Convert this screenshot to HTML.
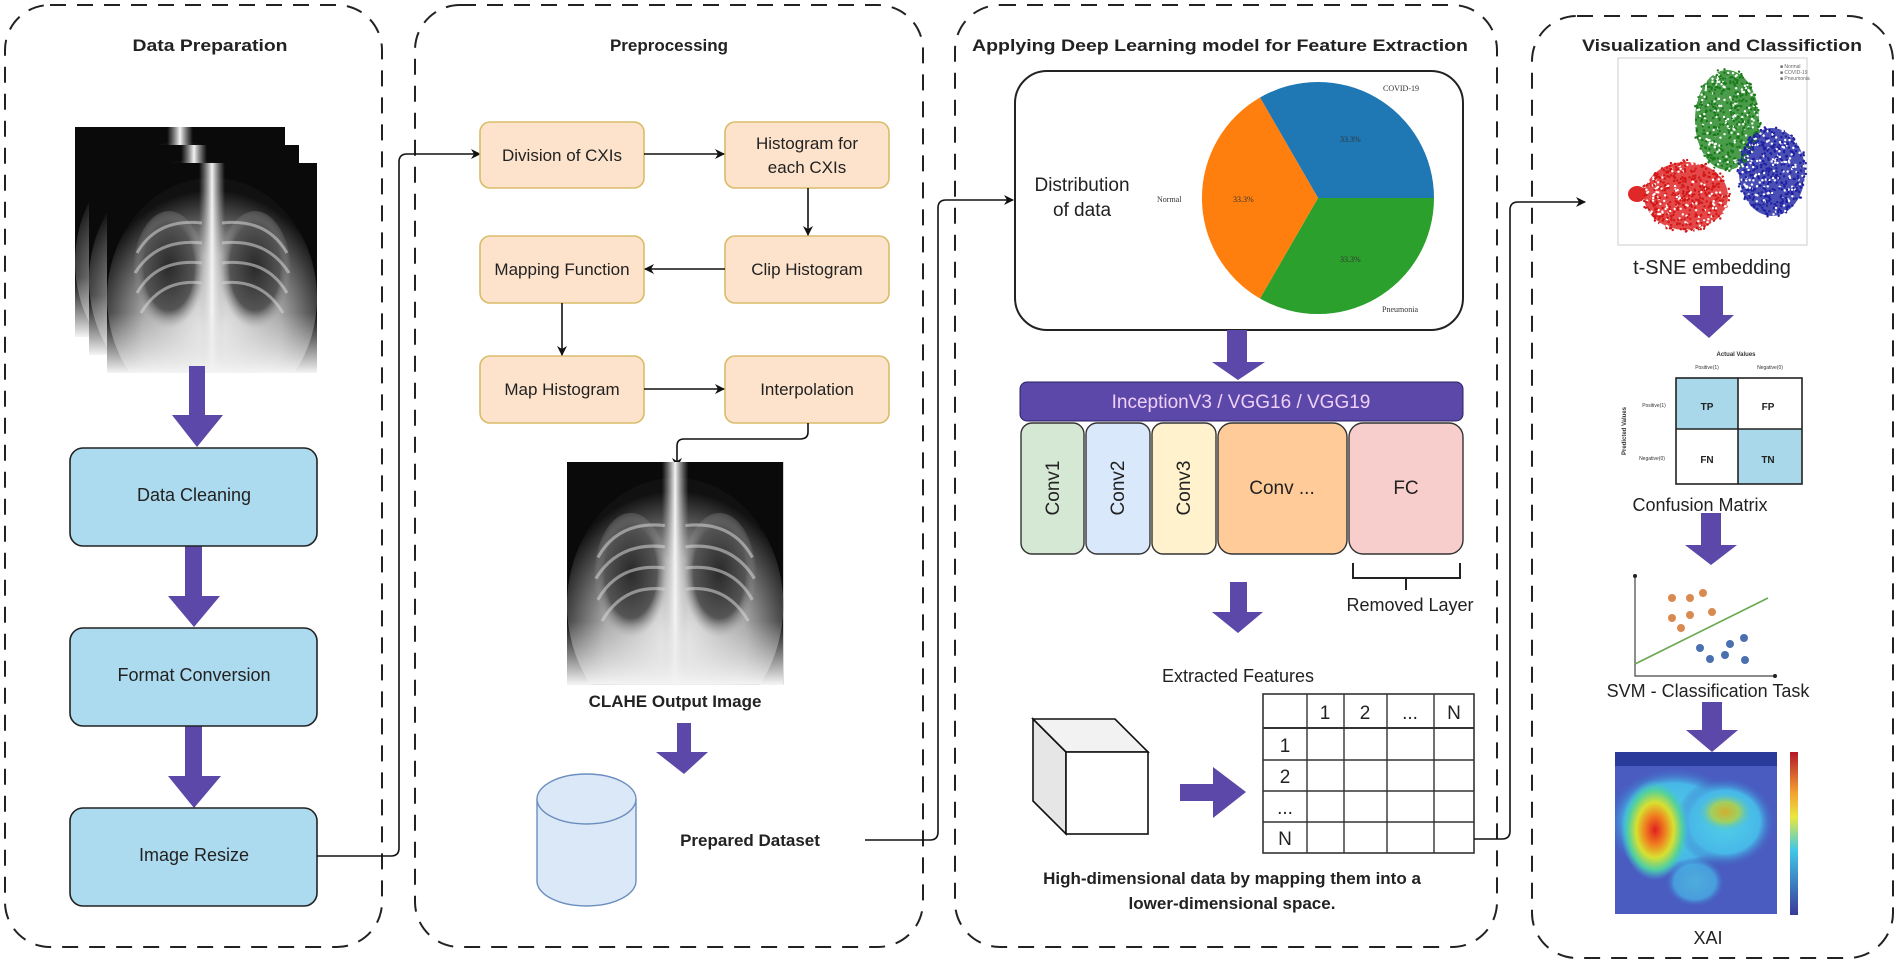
<!DOCTYPE html>
<html><head><meta charset="utf-8"><style>
html,body{margin:0;padding:0;background:#fff;}
svg{display:block;font-family:"Liberation Sans",Arial,sans-serif;}
</style></head><body>
<svg width="1900" height="966" viewBox="0 0 1900 966" xmlns="http://www.w3.org/2000/svg">
<defs>
 <marker id="ah" markerWidth="10" markerHeight="10" refX="9" refY="5" orient="auto" markerUnits="userSpaceOnUse">
  <path d="M0,0 L10,5 L0,10 L3,5 Z" fill="#111"/>
 </marker>
 <clipPath id="xc"><rect x="0" y="0" width="210" height="210"/></clipPath>
 <radialGradient id="body" cx="50%" cy="65%" r="60%">
  <stop offset="0" stop-color="#f0f0f0"/><stop offset="0.55" stop-color="#a8a8a8"/><stop offset="0.9" stop-color="#333"/><stop offset="1" stop-color="#111"/>
 </radialGradient>
 <radialGradient id="lung" cx="50%" cy="45%" r="50%">
  <stop offset="0" stop-color="#2a2a2a"/><stop offset="0.7" stop-color="#555"/><stop offset="1" stop-color="#999" stop-opacity="0"/>
 </radialGradient>
 <linearGradient id="spine" x1="0" x2="1">
  <stop offset="0" stop-color="#bbb" stop-opacity="0"/><stop offset="0.5" stop-color="#f4f4f4"/><stop offset="1" stop-color="#bbb" stop-opacity="0"/>
 </linearGradient>
 <linearGradient id="base" x1="0" y1="0" x2="0" y2="1">
  <stop offset="0" stop-color="#ddd" stop-opacity="0"/><stop offset="1" stop-color="#f4f4f4"/>
 </linearGradient>
 <g id="xray">
  <g clip-path="url(#xc)">
  <rect x="0" y="0" width="210" height="210" fill="#0a0a0a"/>
  <ellipse cx="105" cy="135" rx="105" ry="120" fill="url(#body)"/>
  <ellipse cx="62" cy="110" rx="36" ry="62" fill="url(#lung)"/>
  <ellipse cx="148" cy="110" rx="36" ry="62" fill="url(#lung)"/>
  <g stroke="#d8d8d8" stroke-width="3" fill="none" opacity="0.55">
   <path d="M95,60 Q50,55 30,90"/><path d="M95,80 Q50,75 28,110"/><path d="M95,100 Q50,95 30,130"/><path d="M95,120 Q55,115 34,150"/>
   <path d="M115,60 Q160,55 180,90"/><path d="M115,80 Q160,75 182,110"/><path d="M115,100 Q160,95 180,130"/><path d="M115,120 Q155,115 176,150"/>
  </g>
  <rect x="92" y="0" width="26" height="210" fill="url(#spine)"/>
  <rect x="0" y="150" width="210" height="60" fill="url(#base)"/>
  </g>
 </g>
 <linearGradient id="cbar" x1="0" y1="0" x2="0" y2="1">
  <stop offset="0" stop-color="#b2182b"/><stop offset="0.25" stop-color="#f4a030"/><stop offset="0.4" stop-color="#e8e840"/><stop offset="0.6" stop-color="#40c8e8"/><stop offset="1" stop-color="#3a3a9a"/>
 </linearGradient>
 <radialGradient id="hotL" cx="50%" cy="50%" r="50%">
  <stop offset="0" stop-color="#e02020"/><stop offset="0.3" stop-color="#f08020"/><stop offset="0.55" stop-color="#d8e030"/><stop offset="0.8" stop-color="#50d0a0"/><stop offset="1" stop-color="#40c0e0" stop-opacity="0"/>
 </radialGradient>
 <radialGradient id="hotR" cx="50%" cy="50%" r="50%">
  <stop offset="0" stop-color="#d0b030"/><stop offset="0.5" stop-color="#a0d060"/><stop offset="1" stop-color="#40c0e0" stop-opacity="0"/>
 </radialGradient>
 <radialGradient id="cyan" cx="50%" cy="50%" r="50%">
  <stop offset="0" stop-color="#50d0e8"/><stop offset="0.7" stop-color="#48b8e8"/><stop offset="1" stop-color="#4060c0" stop-opacity="0"/>
 </radialGradient>
</defs>

<g fill="none" stroke="#222" stroke-width="2" stroke-dasharray="16,11">
 <rect x="5" y="5" width="377" height="942" rx="45"/>
 <rect x="415" y="5" width="508" height="942" rx="45"/>
 <rect x="955" y="5" width="542" height="942" rx="45"/>
 <rect x="1532" y="16" width="361" height="942" rx="45"/>
</g>

<g font-weight="bold" font-size="17" fill="#222" text-anchor="middle">
 <text x="210" y="51" textLength="155" lengthAdjust="spacingAndGlyphs">Data Preparation</text>
 <text x="669" y="51">Preprocessing</text>
 <text x="1220" y="51" textLength="496" lengthAdjust="spacingAndGlyphs">Applying Deep Learning model for Feature Extraction</text>
 <text x="1722" y="51" textLength="280" lengthAdjust="spacingAndGlyphs">Visualization and Classifiction</text>
</g>

<use href="#xray" x="75" y="127"/>
<use href="#xray" x="89" y="145"/>
<use href="#xray" x="107" y="163"/>

<g fill="#5b48a8">
 <path d="M189,366 H205 V415 H223 L197,447 L172,415 H189 Z"/>
 <path d="M185,546 H202 V596 H220 L194,627 L168,596 H185 Z"/>
 <path d="M185,726 H202 V776 H221 L194,808 L168,776 H185 Z"/>
</g>
<g fill="#acdaee" stroke="#222" stroke-width="1.6">
 <rect x="70" y="448" width="247" height="98" rx="13"/>
 <rect x="70" y="628" width="247" height="98" rx="13"/>
 <rect x="70" y="808" width="247" height="98" rx="13"/>
</g>
<g font-size="18" fill="#222" text-anchor="middle">
 <text x="194" y="501">Data Cleaning</text>
 <text x="194" y="681">Format Conversion</text>
 <text x="194" y="861">Image Resize</text>
</g>
<path d="M317,856 H391 Q399,856 399,848 V162 Q399,154 407,154 H480" fill="none" stroke="#111" stroke-width="1.6" marker-end="url(#ah)"/>

<g fill="#fde3cb" stroke="#d9bc6a" stroke-width="1.6">
 <rect x="480" y="122" width="164" height="66" rx="10"/>
 <rect x="725" y="122" width="164" height="66" rx="10"/>
 <rect x="480" y="236" width="164" height="67" rx="10"/>
 <rect x="725" y="236" width="164" height="67" rx="10"/>
 <rect x="480" y="356" width="164" height="67" rx="10"/>
 <rect x="725" y="356" width="164" height="67" rx="10"/>
</g>
<g font-size="17" fill="#222" text-anchor="middle">
 <text x="562" y="161">Division of CXIs</text>
 <text x="807" y="149">Histogram for</text>
 <text x="807" y="173">each CXIs</text>
 <text x="562" y="275">Mapping Function</text>
 <text x="807" y="275">Clip Histogram</text>
 <text x="562" y="395">Map Histogram</text>
 <text x="807" y="395">Interpolation</text>
</g>
<g fill="none" stroke="#111" stroke-width="1.6" marker-end="url(#ah)">
 <path d="M644,154 H724"/>
 <path d="M808,188 V235"/>
 <path d="M725,269 H645"/>
 <path d="M562,303 V355"/>
 <path d="M644,389 H724"/>
 <path d="M808,423 V432 Q808,439 800,439 H684 Q677,439 677,446 V467"/>
</g>
<g transform="translate(567,462) scale(1.03,1.06)"><use href="#xray"/></g>
<text x="675" y="707" font-size="17" font-weight="bold" fill="#222" text-anchor="middle">CLAHE Output Image</text>
<path d="M677,723 H691 V752 H708 L684,774 L656,752 H677 Z" fill="#5b48a8"/>
<g stroke="#6c8ebf" stroke-width="1.4" fill="#dbe8f8">
 <path d="M537,799 V881 A49.5,25 0 0 0 636,881 V799"/>
 <ellipse cx="586.5" cy="799" rx="49.5" ry="25"/>
</g>
<text x="750" y="846" font-size="17" font-weight="bold" fill="#222" text-anchor="middle">Prepared Dataset</text>
<path d="M865,840 H930 Q938,840 938,832 V208 Q938,200 946,200 H1013" fill="none" stroke="#111" stroke-width="1.6" marker-end="url(#ah)"/>

<rect x="1015" y="71" width="448" height="259" rx="32" fill="#fff" stroke="#222" stroke-width="2"/>
<g font-size="19" fill="#222" text-anchor="middle">
 <text x="1082" y="191">Distribution</text>
 <text x="1082" y="216">of data</text>
</g>
<path d="M1318,198 L1260,97.5 A116,116 0 0 1 1434,198 Z" fill="#1f77b4"/>
<path d="M1318,198 L1434,198 A116,116 0 0 1 1260,298.5 Z" fill="#2ca02c"/>
<path d="M1318,198 L1260,298.5 A116,116 0 0 1 1260,97.5 Z" fill="#ff7f0e"/>
<g font-size="8" fill="#333" font-family="Liberation Serif,serif">
 <text x="1383" y="91">COVID-19</text>
 <text x="1157" y="202">Normal</text>
 <text x="1382" y="312">Pneumonia</text>
 <text x="1340" y="142">33.3%</text>
 <text x="1233" y="202">33.3%</text>
 <text x="1340" y="262">33.3%</text>
</g>
<path d="M1227,330 H1247 V362 H1265 L1238,380 L1212,362 H1227 Z" fill="#5b48a8"/>
<rect x="1020" y="382" width="443" height="39" rx="7" fill="#5b48a8" stroke="#2a2060" stroke-width="1"/>
<text x="1241" y="408" font-size="19" fill="#f0d0f8" text-anchor="middle">InceptionV3 / VGG16 / VGG19</text>
<g stroke="#333" stroke-width="1.4">
 <rect x="1021" y="423" width="63" height="131" rx="11" fill="#d5e8d4"/>
 <rect x="1086" y="423" width="64" height="131" rx="11" fill="#dae8fc"/>
 <rect x="1152" y="423" width="64" height="131" rx="11" fill="#fff2cc"/>
 <rect x="1218" y="423" width="129" height="131" rx="14" fill="#ffcc99"/>
 <rect x="1349" y="423" width="114" height="131" rx="14" fill="#f8cecc"/>
</g>
<g font-size="19" fill="#222" text-anchor="middle">
 <text transform="translate(1059,488) rotate(-90)">Conv1</text>
 <text transform="translate(1124,488) rotate(-90)">Conv2</text>
 <text transform="translate(1190,488) rotate(-90)">Conv3</text>
 <text x="1282" y="494">Conv ...</text>
 <text x="1406" y="494">FC</text>
</g>
<path d="M1353,563 V578 H1460 V563 M1406,578 V590" fill="none" stroke="#222" stroke-width="2"/>
<text x="1410" y="611" font-size="18" fill="#222" text-anchor="middle">Removed Layer</text>
<path d="M1230,582 H1247 V612 H1263 L1238,633 L1212,612 H1230 Z" fill="#5b48a8"/>
<text x="1238" y="682" font-size="18" fill="#222" text-anchor="middle">Extracted Features</text>
<g stroke="#111" stroke-width="1.6">
 <path d="M1033,719 L1066,752 V834 L1033,801 Z" fill="#e6e6e6"/>
 <path d="M1033,719 H1115 L1148,752 H1066 Z" fill="#f2f2f2"/>
 <rect x="1066" y="752" width="82" height="82" fill="#fff"/>
</g>
<path d="M1180,784 H1213 V767 L1246,792 L1213,818 V801 H1180 Z" fill="#5b48a8"/>
<g stroke="#333" stroke-width="1.4" fill="none">
 <rect x="1263" y="694" width="211" height="159" stroke-width="1.6"/>
 <path d="M1307,694 V853 M1344,694 V853 M1387,694 V853 M1434,694 V853"/>
 <path d="M1263,728 H1474" stroke-width="2"/>
 <path d="M1263,760 H1474 M1263,791 H1474 M1263,822 H1474"/>
</g>
<g font-size="19" fill="#222" text-anchor="middle">
 <text x="1325" y="719">1</text><text x="1365" y="719">2</text><text x="1410" y="719">...</text><text x="1454" y="719">N</text>
 <text x="1285" y="752">1</text><text x="1285" y="783">2</text><text x="1285" y="814">...</text><text x="1285" y="845">N</text>
</g>
<path d="M1474,839 H1502 Q1510,839 1510,831 V210 Q1510,202 1518,202 H1585" fill="none" stroke="#111" stroke-width="1.6" marker-end="url(#ah)"/>
<g font-size="17" font-weight="bold" fill="#222" text-anchor="middle">
 <text x="1232" y="884">High-dimensional data by mapping them into a</text>
 <text x="1232" y="909">lower-dimensional space.</text>
</g>

<rect x="1618" y="58" width="189" height="187" fill="#fff" stroke="#ccc" stroke-width="1"/>
<g id="tsne">
 <ellipse cx="1727" cy="120" rx="32" ry="50" fill="#2a8a2a" opacity="0.85"/>
 <ellipse cx="1772" cy="172" rx="33" ry="44" fill="#2a30a8" opacity="0.85"/>
 <ellipse cx="1686" cy="196" rx="42" ry="34" fill="#e02828" opacity="0.85"/>
 <ellipse cx="1637" cy="194" rx="9" ry="8" fill="#e02828"/>
</g>
<g font-size="5" fill="#666"><text x="1780" y="68">■ Normal</text><text x="1780" y="74">■ COVID-19</text><text x="1780" y="80">■ Pneumonia</text></g>
<text x="1712" y="274" font-size="20" fill="#222" text-anchor="middle">t-SNE embedding</text>
<path d="M1700,286 H1723 V315 H1734 L1709,338 L1682,315 H1700 Z" fill="#5b48a8"/>
<text x="1736" y="356" font-size="6" font-weight="bold" fill="#333" text-anchor="middle">Actual Values</text>
<g font-size="5" fill="#333" text-anchor="middle"><text x="1707" y="369">Positive(1)</text><text x="1770" y="369">Negative(0)</text><text x="1654" y="407">Positive(1)</text><text x="1652" y="460">Negative(0)</text></g>
<text transform="translate(1626,431) rotate(-90)" font-size="6" font-weight="bold" fill="#333" text-anchor="middle">Predicted Values</text>
<rect x="1676" y="378" width="62" height="51" fill="#a8d8ea"/>
<rect x="1738" y="429" width="64" height="55" fill="#a8d8ea"/>
<g stroke="#222" stroke-width="1.6" fill="none"><rect x="1676" y="378" width="126" height="106"/><path d="M1738,378 V484 M1676,429 H1802"/></g>
<g font-size="10" font-weight="bold" fill="#222" text-anchor="middle"><text x="1707" y="410">TP</text><text x="1768" y="410">FP</text><text x="1707" y="463">FN</text><text x="1768" y="463">TN</text></g>
<text x="1700" y="511" font-size="18" fill="#222" text-anchor="middle">Confusion Matrix</text>
<path d="M1701,513 H1721 V545 H1737 L1711,565 L1685,545 H1701 Z" fill="#5b48a8"/>
<g stroke="#444" stroke-width="1.2" fill="none"><path d="M1635,576 V676 H1775"/></g>
<circle cx="1635" cy="576" r="2" fill="#222"/><circle cx="1775" cy="676" r="2" fill="#222"/>
<path d="M1635,664 L1768,598" stroke="#6aa84f" stroke-width="1.6"/>
<g fill="#d88a50"><circle cx="1672" cy="598" r="4"/><circle cx="1690" cy="598" r="4"/><circle cx="1703" cy="593" r="4"/><circle cx="1672" cy="618" r="4"/><circle cx="1690" cy="615" r="4"/><circle cx="1712" cy="612" r="4"/><circle cx="1681" cy="628" r="4"/></g>
<g fill="#4a70b0"><circle cx="1700" cy="648" r="4"/><circle cx="1730" cy="644" r="4"/><circle cx="1744" cy="638" r="4"/><circle cx="1725" cy="655" r="4"/><circle cx="1710" cy="659" r="4"/><circle cx="1745" cy="660" r="4"/></g>
<text x="1708" y="697" font-size="18" fill="#222" text-anchor="middle">SVM - Classification Task</text>
<path d="M1702,702 H1722 V730 H1738 L1712,752 L1686,730 H1702 Z" fill="#5b48a8"/>
<svg x="1615" y="752" width="162" height="162" viewBox="0 0 162 162">
 <rect width="162" height="162" fill="#4a5cc0"/>
 <rect width="162" height="14" fill="#2a3a9a"/>
 <ellipse cx="60" cy="70" rx="70" ry="55" fill="url(#cyan)"/>
 <ellipse cx="110" cy="70" rx="50" ry="45" fill="url(#cyan)"/>
 <ellipse cx="40" cy="78" rx="34" ry="50" fill="url(#hotL)"/>
 <ellipse cx="110" cy="60" rx="28" ry="20" fill="url(#hotR)"/>
 <ellipse cx="80" cy="130" rx="30" ry="25" fill="url(#cyan)" opacity="0.7"/>
</svg>
<rect x="1790" y="752" width="8" height="163" fill="url(#cbar)"/>
<text x="1708" y="944" font-size="18" fill="#222" text-anchor="middle">XAI</text>
</svg>
<script>
(function(){
 var g=document.getElementById('tsne');var ns='http://www.w3.org/2000/svg';
 var s=7;function r(){s=(s*16807)%2147483647;return s/2147483647;}
 function cl(cx,cy,rx,ry,c,n){for(var i=0;i<n;i++){var a=r()*6.283,d=Math.sqrt(r());var e=document.createElementNS(ns,'circle');e.setAttribute('cx',cx+Math.cos(a)*d*rx);e.setAttribute('cy',cy+Math.sin(a)*d*ry);e.setAttribute('r',1.2);e.setAttribute('fill',r()<0.3?'#fff':c);g.appendChild(e);}}
 cl(1727,120,34,52,'#1a7a1a',500);cl(1772,172,35,46,'#2020a0',500);cl(1686,196,44,36,'#d01818',500);
})();
</script>
</body></html>
